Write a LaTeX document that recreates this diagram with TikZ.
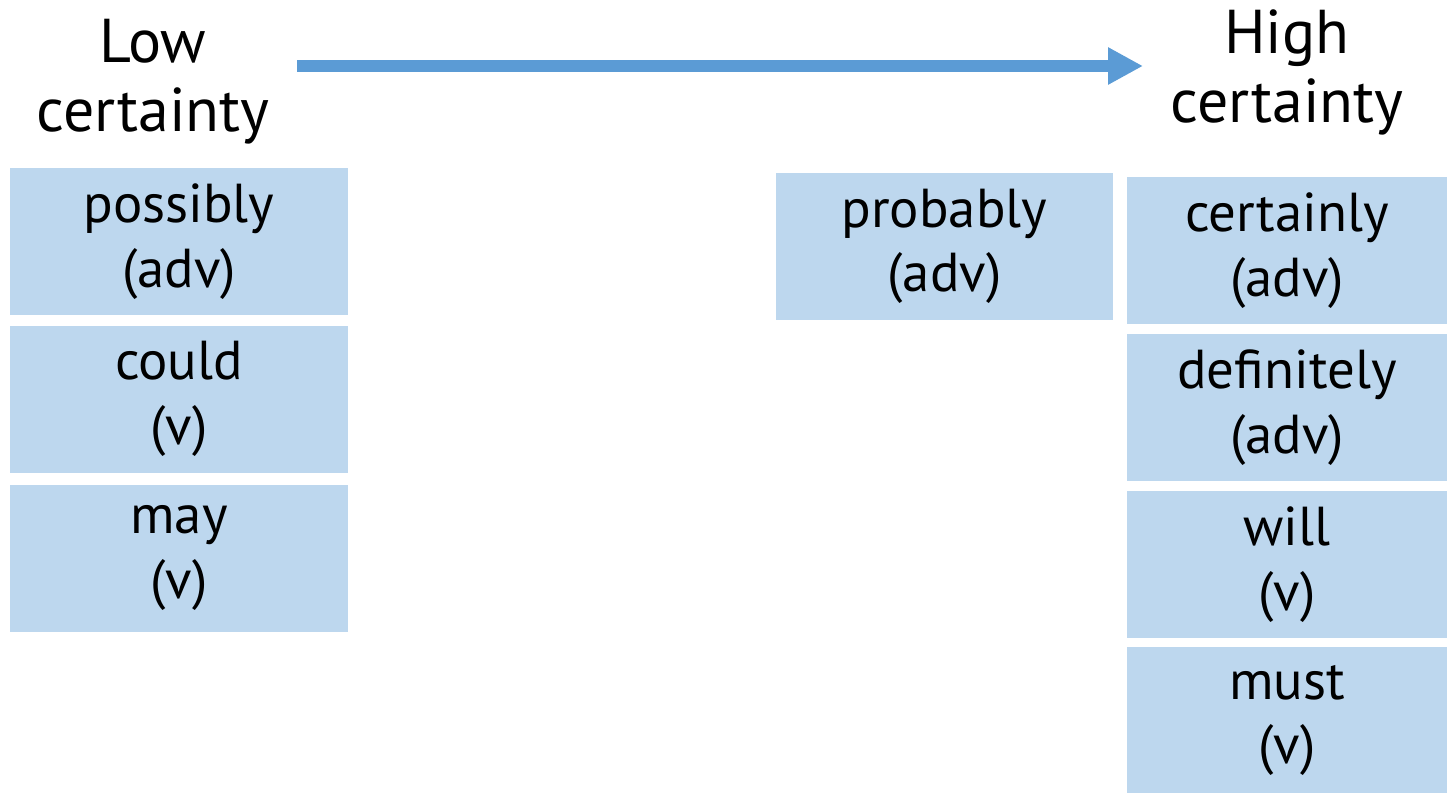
\documentclass[tikz,border=0pt]{standalone}
\usepackage{fontspec}
\setmainfont{PT Sans}
\usetikzlibrary{arrows.meta, positioning}
\definecolor{boxblue}{HTML}{BDD7EE}
\definecolor{arrowblue}{HTML}{5B9BD5}

\begin{document}
\begin{tikzpicture}[
    word/.style={rectangle, fill=boxblue, minimum height=3.675cm, inner sep=0pt, outer sep=0pt, align=center, font=\fontsize{39}{46}\selectfont},
    lowcol/.style={word, minimum width=8.45cm},
    highcol/.style={word, minimum width=8cm},
    heading/.style={align=center, font=\fontsize{44}{49}\selectfont}
]
    \useasboundingbox (0,0) rectangle (36.2,-19.8);
    \clip (0,0) rectangle (36.2,-19.8);

    % Headings and arrow
    \node[heading] (low) at (3.825,-2.05) {Low\\certainty};
    \node[heading] (high) at (32.175,-1.8) {High\\certainty};
    \coordinate (arrowstart) at (7.425,-1.65);
    \coordinate (arrowend) at (28.575,-1.65);
    \draw[arrowblue, line width=0.3cm, -{Triangle[length=0.875cm, width=0.875cm]}] (arrowstart) -- (arrowend);

    % Low certainty
    \node[lowcol] (possibly) at (4.475,-6.0375) {possibly\\(adv)};
    \node[lowcol] (could) at (4.475,-9.975) {could\\(v)};
    \node[lowcol] (may) at (4.475,-13.95) {may\\(v)};

    % Middle
    \node[word, minimum width=8.425cm] (probably) at (23.6125,-6.1625) {probably\\(adv)};

    % High certainty
    \node[highcol] (certainly) at (32.175,-6.2625) {certainly\\(adv)};
    \node[highcol] (definitely) at (32.175,-10.1875) {definitely\\(adv)};
    \node[highcol] (will) at (32.175,-14.1125) {will\\(v)};
    \node[highcol] (must) at (32.175,-18.0125) {must\\(v)};
\end{tikzpicture}
\end{document}
